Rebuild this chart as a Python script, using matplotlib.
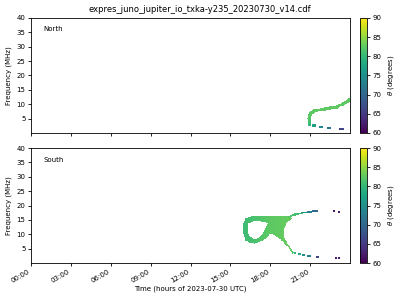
import numpy as np
import matplotlib
matplotlib.use("Agg")
import matplotlib.pyplot as plt
from matplotlib.path import Path
from matplotlib.ticker import FuncFormatter

# ---------------- data ----------------
title = "expres_juno_jupiter_io_txka-y235_20230730_v14.cdf"
panel_names = ["North", "South"]
xtick_hours = [0, 3, 6, 9, 12, 15, 18, 21]
ytick_mhz = [5, 10, 15, 20, 25, 30, 35, 40]
cbar_ticks = [60, 65, 70, 75, 80, 85, 90]

# North: main arc centreline (time h, freq MHz, theta deg)
north_arc_t = [20.98, 20.95, 21.02, 21.25, 21.68, 22.43, 23.05, 23.55, 23.95]
north_arc_f = [3.0, 5.2, 6.6, 7.65, 8.0, 8.6, 9.2, 10.3, 11.4]
north_arc_theta = [80, 82, 82.5, 82.5, 82.5, 82.5, 82.5, 82.5, 82.5]
# North: tail dashes
north_dash_t0 = [21.15, 21.68, 22.28, 23.18]
north_dash_t1 = [21.45, 21.98, 22.58, 23.55]
north_dash_f = [2.6, 2.1, 1.8, 1.45]
north_dash_theta = [77, 74, 71, 66]

# South: filled loop + body outline and hole
south_body_t = [15.92, 15.98, 16.20, 16.58, 17.33, 18.08, 18.68, 19.43, 19.67,
                19.28, 19.18, 19.05, 19.05, 19.30, 19.67, 19.80, 19.58, 19.43,
                19.05, 18.68, 18.05, 17.78, 17.40, 16.88, 16.43, 16.13, 15.98]
south_body_f = [12.2, 14.3, 15.65, 16.2, 16.2, 16.5, 16.2, 16.2, 15.55,
                14.3, 13.2, 11.5, 9.15, 6.85, 3.9, 3.1, 3.5, 5.1,
                6.85, 8.6, 10.3, 9.05, 7.65, 6.85, 6.95, 8.0, 9.7]
south_hole_t = [16.30, 16.35, 16.65, 17.18, 17.63, 17.81, 17.63, 17.48, 17.18,
                16.80, 16.50, 16.35]
south_hole_f = [11.5, 13.6, 14.4, 14.45, 14.25, 13.9, 12.2, 10.4, 8.9,
                8.35, 9.05, 10.1]
south_fill_theta_t = [15.9, 17.0, 18.0, 19.8]
south_fill_theta = [80.5, 81.5, 82.5, 83.0]

# South: upper and lower arcs (continuous parts)
south_up_t = [19.43, 19.90, 20.40]
south_up_f = [16.2, 16.9, 17.35]
south_up_theta = [82, 81, 80]
south_low_t = [19.67, 19.88]
south_low_f = [3.9, 3.55]
south_low_theta = [81, 80]
# South: dashes (tails of both arcs)
south_dash_t0 = [20.40, 20.78, 21.15, 22.73, 23.15,
                 20.10, 20.40, 20.78, 21.45, 22.88, 23.10]
south_dash_t1 = [20.72, 21.15, 21.60, 22.88, 23.25,
                 20.33, 20.63, 21.08, 21.68, 23.03, 23.25]
south_dash_f = [17.5, 17.9, 18.1, 18.1, 17.7,
                3.1, 2.8, 2.45, 2.1, 1.6, 1.6]
south_dash_theta = [76, 73, 70, 62, 62,
                    78, 75, 73, 66, 62, 62]

# ---------------- grid ----------------
DT = 1.0 / 15.0
DF = 0.25
t_edges = np.arange(0, 24 + DT / 2, DT)
f_edges = np.arange(0, 40 + DF / 2, DF)
tc = 0.5 * (t_edges[:-1] + t_edges[1:])
fc = 0.5 * (f_edges[:-1] + f_edges[1:])
T, F = np.meshgrid(tc, fc)
PX_T, PX_F = 13.33, 2.875  # pixel scale used for ribbon widths


def ribbon(grid, ts, fs, thetas, hw_px):
    X = T * PX_T
    Y = F * PX_F
    best = np.full(T.shape, np.inf)
    val = np.full(T.shape, np.nan)
    for i in range(len(ts) - 1):
        x0, y0 = ts[i] * PX_T, fs[i] * PX_F
        x1, y1 = ts[i + 1] * PX_T, fs[i + 1] * PX_F
        dx, dy = x1 - x0, y1 - y0
        L2 = dx * dx + dy * dy
        u = np.clip(((X - x0) * dx + (Y - y0) * dy) / L2, 0, 1)
        d = np.hypot(X - (x0 + u * dx), Y - (y0 + u * dy))
        th = thetas[i] + u * (thetas[i + 1] - thetas[i])
        m = d < best
        best[m] = d[m]
        val[m] = th[m]
    sel = best <= hw_px
    grid[sel] = val[sel]


def dashes(grid, t0s, t1s, fs, thetas, hw_f=0.36):
    for a, b, f, th in zip(t0s, t1s, fs, thetas):
        sel = (T >= a) & (T <= b) & (np.abs(F - f) <= hw_f)
        grid[sel] = th


north = np.full(T.shape, np.nan)
ribbon(north, north_arc_t, north_arc_f, north_arc_theta, 1.6)
dashes(north, north_dash_t0, north_dash_t1, north_dash_f, north_dash_theta)

south = np.full(T.shape, np.nan)
pts = np.column_stack([T.ravel(), F.ravel()])
body = Path(np.column_stack([south_body_t, south_body_f])).contains_points(pts)
hole = Path(np.column_stack([south_hole_t, south_hole_f])).contains_points(pts)
inside = (body & ~hole).reshape(T.shape)
south[inside] = np.interp(T, south_fill_theta_t, south_fill_theta)[inside]
ribbon(south, south_up_t, south_up_f, south_up_theta, 0.9)
ribbon(south, south_low_t, south_low_f, south_low_theta, 0.9)
dashes(south, south_dash_t0, south_dash_t1, south_dash_f, south_dash_theta)

# ---------------- plot ----------------
fig = plt.figure(figsize=(4, 3), dpi=100)
fs_small = 5
fig.suptitle(title, fontsize=6, y=0.985)

axes_rects = [[0.0775, 0.5567, 0.7975, 0.3833], [0.0775, 0.1233, 0.7975, 0.3833]]
cbar_rects = [[0.9, 0.5567, 0.0175, 0.3833], [0.9, 0.1233, 0.0175, 0.3833]]

for k, (data, name) in enumerate(zip([north, south], panel_names)):
    ax = fig.add_axes(axes_rects[k])
    mesh = ax.pcolormesh(t_edges, f_edges, np.ma.masked_invalid(data),
                         cmap="viridis", vmin=60, vmax=90, shading="flat",
                         rasterized=True)
    ax.set_xlim(0, 24)
    ax.set_ylim(0, 40)
    ax.set_yticks(ytick_mhz)
    ax.set_xticks(xtick_hours)
    ax.tick_params(labelsize=fs_small, length=2.5, width=0.6, pad=1.5)
    ax.set_ylabel("Frequency (MHz)", fontsize=fs_small, labelpad=3)
    ax.text(0.04, 0.9, name, transform=ax.transAxes, fontsize=fs_small,
            va="center", ha="left")
    for s in ax.spines.values():
        s.set_linewidth(0.6)
    if k == 0:
        ax.set_xticklabels([])
    else:
        ax.xaxis.set_major_formatter(FuncFormatter(lambda v, p: f"{int(v):02d}:00"))
        for lab in ax.get_xticklabels():
            lab.set_rotation(30)
            lab.set_ha("right")
        ax.set_xlabel("Time (hours of 2023-07-30 UTC)", fontsize=fs_small, labelpad=1)
    cax = fig.add_axes(cbar_rects[k])
    cb = fig.colorbar(mesh, cax=cax, ticks=cbar_ticks)
    cb.ax.tick_params(labelsize=fs_small, length=2.5, width=0.6, pad=1.5)
    cb.outline.set_linewidth(0.6)
    cb.set_label(r"$\theta$ (degrees)", fontsize=fs_small, labelpad=3)

fig.savefig("out.png", dpi=100)
